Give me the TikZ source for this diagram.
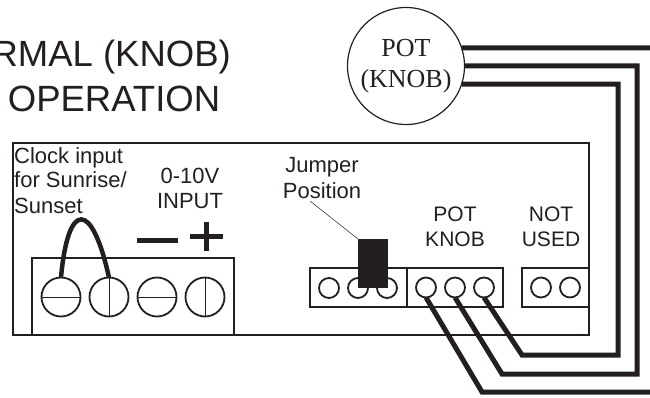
\documentclass[tikz,border=0pt]{standalone}
\usepackage{fontspec}
\setmainfont{Liberation Sans}
\newfontfamily\potfont{Liberation Serif}
\usetikzlibrary{positioning}
\definecolor{ink}{HTML}{231F20}

\begin{document}
\begin{tikzpicture}[x=1pt, y=-1pt, node distance=9pt, color=ink, text=ink]
    \tikzstyle{panelbox} = [rectangle, draw, line width=1.8pt, outer sep=0pt, inner sep=0pt]
    \tikzstyle{screw} = [circle, draw, line width=1.8pt, minimum size=39pt, inner sep=0pt, outer sep=0pt]
    \tikzstyle{pin} = [circle, draw, line width=1.8pt, minimum size=20pt, inner sep=0pt, outer sep=0pt]
    \tikzstyle{wire} = [line width=5pt, line join=miter]
    \tikzstyle{slot} = [line width=0.5pt]
    \tikzstyle{sign} = [line width=5pt]
    \tikzstyle{title} = [font=\fontsize{36.5}{45}\selectfont, inner sep=0pt, align=center]
    \tikzstyle{caption} = [font=\fontsize{22}{25}\selectfont, inner sep=0pt, align=center]
    \tikzstyle{smallcaption} = [font=\fontsize{21}{25}\selectfont, inner sep=0pt, align=center]

    \clip (0,0) rectangle (650,398);

    % title
    \node [title, anchor=base east] (titlea) at (231,67) {RMAL (KNOB)};
    \node [title, anchor=base] (titleb) at (114,112) {OPERATION};

    % panel and its blocks
    \node [panelbox, minimum width=576pt, minimum height=192pt] (panel) at (301,239) {};
    \node [panelbox, minimum width=202pt, minimum height=77pt] (terminal) at (133,296.5) {};
    \node [panelbox, minimum width=97pt, minimum height=39pt] (jumperblock) at (358.5,287.5) {};
    \node [panelbox, minimum width=96pt, minimum height=39pt, right=0pt of jumperblock] (potblock) {};
    \node [panelbox, minimum width=67pt, minimum height=39pt] (unusedblock) at (555.5,287.5) {};

    % screws
    \node [screw] (screwa) at (61,297) {};
    \node [screw, right=of screwa] (screwb) {};
    \node [screw, right=of screwb] (screwc) {};
    \node [screw, right=of screwc] (screwd) {};
    \draw [slot] (screwa.west) -- (screwa.east);
    \draw [slot] (screwb.north) -- (screwb.south);
    \draw [slot] (screwc.west) -- (screwc.east);
    \draw [slot] (screwd.north) -- (screwd.south);
    \draw [line width=4.5pt] (screwa.north) .. controls (68,200) and (92,200) .. (screwb.north);

    % pins
    \node [pin] (jpina) at (329,288) {};
    \node [pin, right=of jpina] (jpinb) {};
    \node [pin, right=of jpinb] (jpinc) {};
    \node [pin] (pota) at (426,287.5) {};
    \node [pin, right=of pota] (potb) {};
    \node [pin, right=of potb] (potc) {};
    \node [pin] (unuseda) at (541,287.5) {};
    \node [pin, right=of unuseda] (unusedb) {};
    \node [rectangle, fill=ink, minimum width=30pt, minimum height=49pt, inner sep=0pt, outer sep=0pt] (jumpercap) at (373,263.5) {};

    % signs
    \draw [sign] (137,240) -- (178,240);
    \draw [sign] (190,236) -- (223,236);
    \draw [sign] (206.5,222) -- (206.5,251);

    % labels
    \node [caption, align=left, anchor=base west] (clock) at (14,213) {Clock input\\for Sunrise/\\Sunset};
    \node [caption, anchor=base] (volts) at (190,208) {0-10V\\INPUT};
    \node [caption, anchor=base] (jumperlabel) at (322,198) {Jumper\\Position};
    \node [smallcaption, anchor=base] (potlabel) at (455,246) {POT\\KNOB};
    \node [smallcaption, anchor=base] (unusedlabel) at (551,246) {NOT\\USED};
    \coordinate (leadstart) at (310,201);
    \draw [line width=0.5pt] (leadstart) -- (jumpercap.north west);

    % pot and wires
    \node [circle, draw, line width=1.2pt, minimum size=117pt, inner sep=0pt, outer sep=0pt, align=center, font=\potfont\fontsize{26}{30}\selectfont] (pot) at (406,66) {POT\\[1pt](KNOB)};
    \coordinate (edgea) at (650,48);
    \coordinate (edgeb) at (650,392);
    \coordinate (benda) at (482,392);
    \coordinate (bendb) at (502,374);
    \coordinate (bendbb) at (637,374);
    \coordinate (bendc) at (522,355);
    \coordinate (bendcc) at (618,355);
    \draw [wire] (pot.18) -- (edgea);
    \draw [wire] (pot.east) -| (bendbb) -- (bendb) -- (potb.south);
    \draw [wire] (pot.-18) -| (bendcc) -- (bendc) -- (potc.south);
    \draw [wire] (edgeb) -- (benda) -- (pota.south);
\end{tikzpicture}
\end{document}
